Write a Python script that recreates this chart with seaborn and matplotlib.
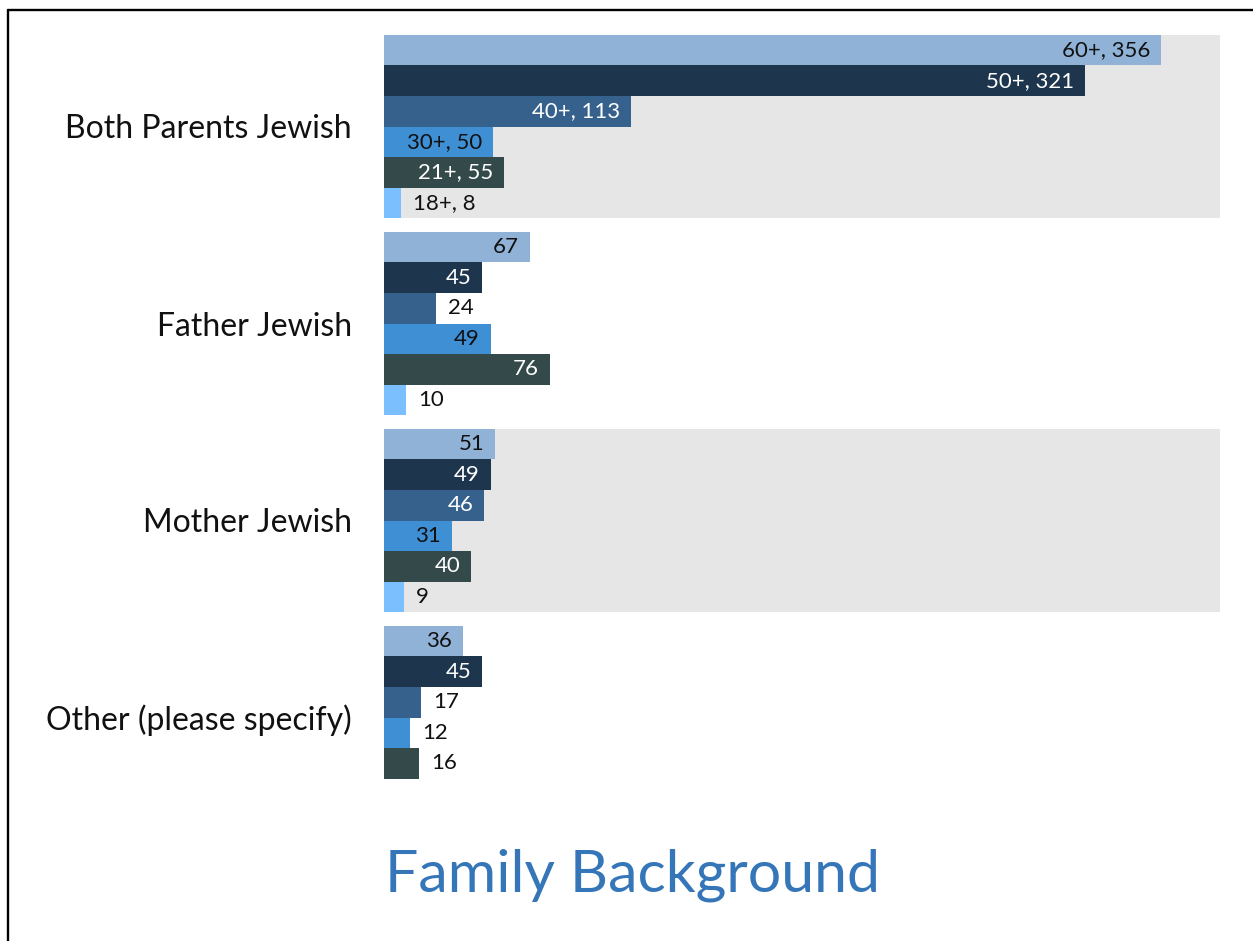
import matplotlib
matplotlib.use("Agg")
import matplotlib.pyplot as plt
from matplotlib.lines import Line2D
import pandas as pd
import seaborn as sns

# Survey responses by family background and age bracket
categories = ["Both Parents Jewish", "Father Jewish", "Mother Jewish", "Other (please specify)"]
ages = ["60+", "50+", "40+", "30+", "21+", "18+"]
both_parents = [356, 321, 113, 50, 55, 8]
father = [67, 45, 24, 49, 76, 10]
mother = [51, 49, 46, 31, 40, 9]
other = [36, 45, 17, 12, 16, None]

palette = ["#8fb2d6", "#1d364d", "#35618c", "#3f8fd5", "#344a4a", "#7bbfff"]
label_colors = ["#111111", "white", "white", "#111111", "white", "#111111"]

rows = []
for cat, vals in zip(categories, [both_parents, father, mother, other]):
    for age, v in zip(ages, vals):
        if v is not None:
            rows.append({"category": cat, "age": age, "value": v})
df = pd.DataFrame(rows)

sns.set_theme(style="white")
plt.rcParams["font.family"] = ["Lato", "DejaVu Sans"]

fig = plt.figure(figsize=(12.53, 9.41), dpi=100)
ax = fig.add_axes([384 / 1253, 1 - 816 / 941, (1220 - 384) / 1253, (816 - 28) / 941])

group_width = 0.929
# alternating shaded bands behind the first and third groups
for i in (0, 2):
    ax.axhspan(i - group_width / 2, i + group_width / 2, color="#e6e6e6", zorder=0, lw=0)

sns.barplot(data=df, x="value", y="category", hue="age", order=categories,
            hue_order=ages, palette=palette, orient="h", width=group_width,
            dodge=True, saturation=1, legend=False, errorbar=None, ax=ax,
            zorder=2, linewidth=0)

ax.set_xlim(0, 383)
ax.set_ylim(3.5, -0.5)

for j, container in enumerate(ax.containers):
    for bar in container:
        w = bar.get_width()
        if w is None or w != w:
            continue
        yc = bar.get_y() + bar.get_height() / 2
        cat_idx = int(round(yc))
        val = int(round(w))
        text = f"{ages[j]}, {val}" if cat_idx == 0 else f"{val}"
        if val >= 30:
            ax.annotate(text, (w, yc), xytext=(-11, 0), textcoords="offset pixels",
                        ha="right", va="center", fontsize=16,
                        color=label_colors[j], zorder=3)
        else:
            ax.annotate(text, (w, yc), xytext=(12, 0), textcoords="offset pixels",
                        ha="left", va="center", fontsize=16,
                        color="#111111", zorder=3)

ax.set_xlabel("")
ax.set_ylabel("")
ax.set_xticks([])
ax.tick_params(axis="y", length=0, pad=23, labelsize=23, labelcolor="#111111")
for s in ax.spines.values():
    s.set_visible(False)
ax.set_facecolor("none")

fig.text(385 / 1253, 1 - 892 / 941, "Family Background", ha="left", va="baseline",
         fontsize=42.5, color="#3576b8")

# frame lines along the top and left edges
fig.add_artist(Line2D([7.5 / 1253, 1], [1 - 10 / 941, 1 - 10 / 941], color="black", lw=1.7,
                      transform=fig.transFigure))
fig.add_artist(Line2D([8 / 1253, 8 / 1253], [0, 1 - 10 / 941], color="black", lw=1.7,
                      transform=fig.transFigure))

fig.savefig("out.png", dpi=100)
